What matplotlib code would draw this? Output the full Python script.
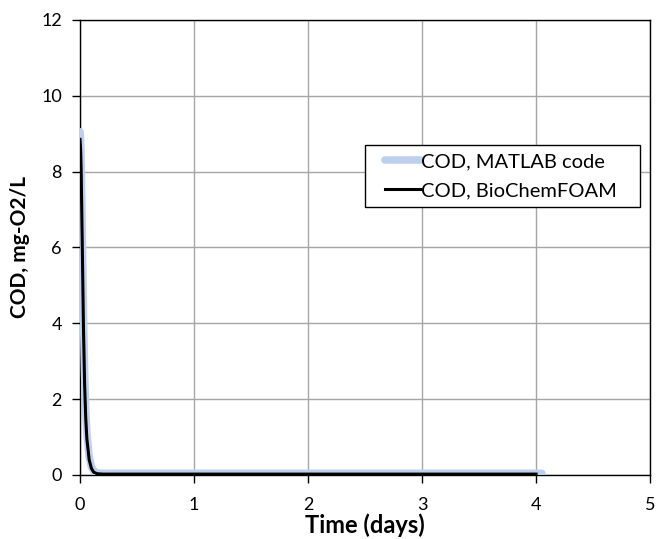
import matplotlib
matplotlib.use("Agg")
from matplotlib import pyplot as plt
from matplotlib.patches import Rectangle

# MATLAB code result (light blue, thick)
t_matlab = [0.0, 0.005, 0.01, 0.02, 0.03, 0.04, 0.05, 0.06, 0.08, 0.10, 0.12, 0.15, 0.20, 0.30, 1.0, 2.0, 3.0, 4.05]
cod_matlab = [9.05, 8.8, 8.2, 6.3, 4.2, 2.7, 1.7, 1.1, 0.48, 0.21, 0.10, 0.05, 0.04, 0.04, 0.04, 0.04, 0.04, 0.04]

# BioChemFOAM result (black)
t_foam = [0.0, 0.005, 0.01, 0.02, 0.03, 0.04, 0.05, 0.06, 0.08, 0.10, 0.12, 0.15, 0.20, 0.30, 1.0, 2.0, 3.0, 4.0]
cod_foam = [8.85, 8.6, 8.0, 6.0, 3.9, 2.4, 1.5, 0.95, 0.40, 0.17, 0.07, 0.03, 0.02, 0.02, 0.02, 0.02, 0.02, 0.02]

x_ticks = [0, 1, 2, 3, 4, 5]
y_ticks = [0, 2, 4, 6, 8, 10, 12]

plt.rcParams["font.family"] = ["Lato", "DejaVu Sans"]

fig = plt.figure(figsize=(6.56, 5.39), dpi=100)
ax = fig.add_axes([0.122, 0.119, 0.869, 0.844])

ax.plot(t_matlab, cod_matlab, color="#bfd0ee", lw=5.5, solid_capstyle="round",
        label="COD, MATLAB code", zorder=3)
ax.plot(t_foam, cod_foam, color="black", lw=2.2, label="COD, BioChemFOAM", zorder=4)

ax.set_xlim(0, 5)
ax.set_ylim(0, 12)
ax.set_xticks(x_ticks)
ax.set_yticks(y_ticks)
ax.grid(True, color="#a6a6a6", lw=1)
ax.set_axisbelow(True)
for s in ax.spines.values():
    s.set_color("black")
    s.set_linewidth(1)
ax.tick_params(direction="out", length=6, width=1, labelsize=13, colors="black", pad=7)
ax.tick_params(axis="x", pad=10)

ax.set_xlabel("Time (days)", fontsize=17, fontweight="bold", labelpad=0)
ax.set_ylabel("COD, mg-O2/L", fontsize=15, fontweight="bold", labelpad=8)

# legend box drawn by hand so the padding matches the original
ax.add_patch(Rectangle((0.5, 0.589), 0.4825, 0.136, transform=ax.transAxes,
                       facecolor="white", edgecolor="black", lw=1, zorder=5))
leg = ax.legend(loc="upper left", bbox_to_anchor=(0.535, 0.708), fontsize=14.5,
                frameon=False, handlelength=1.75, handletextpad=0.05,
                borderpad=0, labelspacing=0.6, borderaxespad=0)
leg.set_zorder(6)

fig.savefig("out.png", dpi=100)
